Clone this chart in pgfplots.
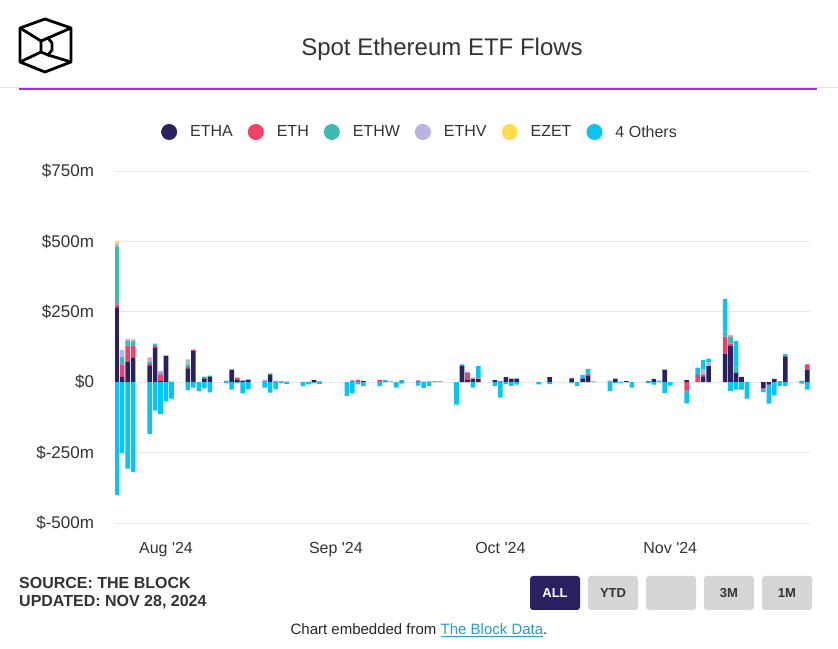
\documentclass[border=0pt]{standalone}
\usepackage{fontspec}
\setmainfont{Liberation Sans}
\usepackage{pgfplots}
\usepackage{pgfplotstable}
\pgfplotsset{compat=1.18}
\definecolor{cETHA}{HTML}{2A2160}
\definecolor{cETH}{HTML}{EF4268}
\definecolor{cETHW}{HTML}{3DBBAE}
\definecolor{cETHV}{HTML}{B9B3E2}
\definecolor{cEZET}{HTML}{FDDD4E}
\definecolor{cOTH}{HTML}{0BC4F0}
\definecolor{txt}{HTML}{333333}
\definecolor{gridc}{HTML}{E8E8E8}
\definecolor{purp}{HTML}{A32BE3}
\definecolor{faint}{HTML}{F3D9F6}
\definecolor{btn}{HTML}{D6D6D6}
\definecolor{link}{HTML}{2A9CC8}

% day index: 0 = 1 Aug 2024
\pgfplotstableread{
d ETHA ETH ETHW ETHV EZET OTH
-9 266 10 206 10 10 0
-8 19 44 26 25 0 0
-7 71 59 18 6 0 0
-6 86 45 17 3 4 0
-3 60 5 9 14 0 0
-2 122 9 6 0 0 0
-1 4 23 6 7 0 0
0 94 0 0 0 0 0
1 0 0 0 2 4 0
4 49 5 9 18 0 0
5 110 6 0 0 0 0
7 14 0 6 0 0 0
8 19 0 4 0 0 0
11 0 0 6 0 0 0
12 45 0 0 0 0 0
13 9 7 0 0 0 0
14 5 0 0 2 0 0
15 9 0 0 0 0 0
18 0 0 5 4 0 0
19 26 0 5 0 0 0
20 0 3 0 3 0 0
21 0 3 0 2 0 0
22 0 0 2 0 0 0
26 0 0 2 0 0 0
27 7 0 0 0 0 0
28 0 2 0 2 0 0
34 0 5 0 3 0 0
35 0 7 0 2 0 0
36 5 0 0 0 0 0
39 0 7 0 0 0 0
40 2 0 0 0 0 6
41 0 0 0 0 0 3
43 1 0 6 0 0 0
46 0 5 0 2 0 0
47 0 0 0 3 0 0
48 2 0 0 0 0 0
49 2 0 0 1 0 0
50 0 3 0 0 0 0
54 58 0 0 0 0 5
55 8 25 0 4 0 0
56 11 0 3 3 0 0
57 11 3 0 0 0 43
60 7 0 0 0 0 0
61 3 0 0 0 0 0
62 18 0 0 0 0 0
63 13 0 0 0 0 0
64 13 0 0 0 0 0
70 18 0 0 0 0 0
74 14 0 0 1 0 0
76 14 0 0 0 0 12
77 22 8 0 0 0 17
78 0 0 3 0 0 0
81 2 0 0 4 0 0
82 13 0 0 0 0 0
83 0 0 0 0 0 2
84 4 0 0 1 0 0
88 3 0 0 1 0 0
89 12 0 0 0 0 0
90 0 0 0 0 0 6
91 45 0 0 0 0 0
95 7 0 0 0 0 0
97 0 25 0 0 0 27
98 21 7 0 17 0 33
99 57 0 0 13 0 14
102 100 62 18 0 0 116
103 128 9 24 6 0 0
104 33 0 19 0 0 94
105 19 0 0 0 0 0
111 12 0 0 0 0 0
112 0 0 0 0 0 4
113 92 0 9 0 0 0
116 0 0 6 0 0 0
117 45 18 0 0 0 0
}\postab

\pgfplotstableread{
d ETHA ETH OTH
-9 0 0 -400
-8 0 0 -251
-7 0 0 -307
-6 0 0 -319
-3 0 0 -184
-2 0 0 -101
-1 0 0 -113
0 0 0 -68
1 0 0 -58
4 0 0 -28
5 0 0 -19
6 0 0 -31
7 0 0 -22
8 0 0 -36
11 0 0 -3
12 0 0 -26
13 0 0 -3
14 0 0 -40
15 0 0 -24
18 0 0 -19
19 0 0 -37
20 0 0 -25
21 0 0 -2
22 0 0 -6
25 0 0 -14
26 0 0 -8
27 0 0 -2
28 0 0 -6
33 0 0 -49
34 0 0 -40
35 0 0 -8
36 0 0 -14
39 0 0 -14
42 0 0 -19
43 0 0 -5
46 0 0 -12
47 0 0 -20
48 0 0 -14
53 0 0 -80
56 0 0 -19
60 0 0 -13
61 0 0 -55
62 0 0 -7
63 0 0 -13
64 0 0 -9
68 0 0 -8
70 0 0 -7
74 0 0 -3
75 0 0 -13
81 0 0 -31
82 0 0 -3
83 0 0 -3
85 0 0 -19
88 0 0 -3
89 0 0 -9
91 0 0 -38
92 0 0 -12
95 0 -30 -45
103 0 0 -31
104 0 0 -26
105 0 0 -26
106 0 0 -58
109 -22 -4 -9
110 -9 0 -67
111 0 0 -47
112 0 0 -13
113 0 0 -13
116 0 0 -5
117 0 0 -26
}\negtab

\pgfplotsset{
  base/.style={
    scale only axis, width=695pt, height=352pt,
    at={(115pt,125pt)}, anchor=south west,
    xmin=-9.31, xmax=117.5, ymin=-500, ymax=750,
    enlargelimits=false,
    ybar stacked, bar width=4.6pt,
    axis line style={draw=none},
    major tick length=0pt,
  },
  seg/.style={draw=none, fill=#1},
}

\begin{document}
\begin{tikzpicture}[x=1pt,y=1pt]
\path[use as bounding box, fill=white] (0,0) rectangle (838,648);

% logo
\begin{scope}[line width=2.8pt, line join=round, black]
\draw (45,629) -- (71,620) -- (71,586) -- (45,576) -- (20,586) -- (20,620) -- cycle;
\draw (41,607) -- (48,610) -- (52,605) -- (52,598) -- (48,593) -- (41,596) -- cycle;
\draw (48,610) -- (71,620);
\draw (48,593) -- (71,586);
\draw (41,607) -- (20,620);
\draw (41,596) -- (20,586);
\end{scope}

% title
\node[anchor=base, font=\fontsize{24}{28}\selectfont, text=txt] at (442,592) {Spot Ethereum ETF Flows};
\draw[faint, line width=1pt] (0,560.5) -- (838,560.5);
\draw[purp, line width=1.5pt] (19,559) -- (817,559);

\begin{axis}[base,
  ymajorgrids, grid style={gridc, line width=0.9pt},
  ytick={-500,-250,0,250,500,750},
  yticklabels={\$-500m,\$-250m,\$0,\$250m,\$500m,\$750m},
  xtick={0,31,61,92},
  xticklabels={Aug \textquotesingle24,Sep \textquotesingle24,Oct \textquotesingle24,Nov \textquotesingle24},
  tick label style={font=\fontsize{16}{18}\selectfont, text=txt},
  yticklabel style={font=\fontsize{17}{19}\selectfont, xshift=-17.5pt},
  xticklabel style={yshift=-16pt},
  legend columns=6,
  legend style={at={(0.4374,1.1108)}, anchor=center, draw=none, fill=none,
    font=\fontsize{16}{18}\selectfont, text=txt,
    nodes={inner sep=0pt},
    /tikz/every odd column/.append style={column sep=13pt},
    /tikz/every even column/.append style={column sep=15pt}},
  legend image code/.code={\fill[#1] (0pt,0pt) circle (8pt);},
]
\addplot[seg=cETHA] table[x=d,y=ETHA]{\postab};
\addplot[seg=cETH] table[x=d,y=ETH]{\postab};
\addplot[seg=cETHW] table[x=d,y=ETHW]{\postab};
\addplot[seg=cETHV] table[x=d,y=ETHV]{\postab};
\addplot[seg=cEZET] table[x=d,y=EZET]{\postab};
\addplot[seg=cOTH] table[x=d,y=OTH]{\postab};
\legend{ETHA,ETH,ETHW,ETHV,EZET,4 Others}
\end{axis}

\begin{axis}[base, xtick=\empty, ytick=\empty]
\addplot[seg=cETHA] table[x=d,y=ETHA]{\negtab};
\addplot[seg=cETH] table[x=d,y=ETH]{\negtab};
\addplot[seg=cOTH] table[x=d,y=OTH]{\negtab};
\end{axis}

% footer
\node[anchor=west, inner sep=0pt, font=\fontsize{16}{18}\bfseries\selectfont, text=txt] at (19,65) {SOURCE: THE BLOCK};
\node[anchor=west, inner sep=0pt, font=\fontsize{16}{18}\bfseries\selectfont, text=txt] at (19,46) {UPDATED: NOV 28, 2024};

\fill[cETHA, rounded corners=3pt] (530,38) rectangle (580,72);
\node[font=\fontsize{13}{15}\bfseries\selectfont, text=white] at (555,55) {ALL};
\fill[btn, rounded corners=3pt] (588,38) rectangle (638,72);
\node[font=\fontsize{13}{15}\bfseries\selectfont, text=txt] at (613,55) {YTD};
\fill[btn, rounded corners=3pt] (646,38) rectangle (696,72);
\fill[btn, rounded corners=3pt] (704,38) rectangle (754,72);
\node[font=\fontsize{13}{15}\bfseries\selectfont, text=txt] at (729,55) {3M};
\fill[btn, rounded corners=3pt] (762,38) rectangle (812,72);
\node[font=\fontsize{13}{15}\bfseries\selectfont, text=txt] at (787,55) {1M};

\node[font=\fontsize{15}{17}\selectfont, text=black!85] at (419,18) {Chart embedded from \textcolor{link}{\underline{The Block Data}}.};
\end{tikzpicture}
\end{document}
